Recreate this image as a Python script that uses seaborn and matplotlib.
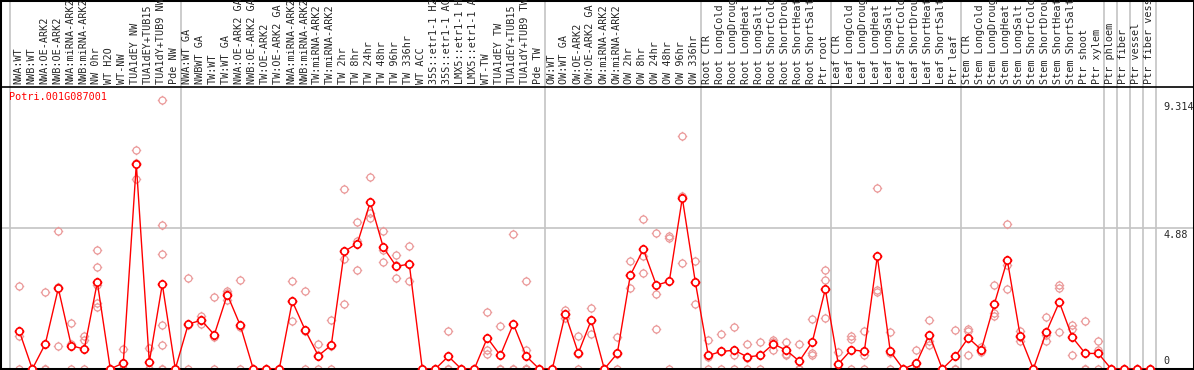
import matplotlib.pyplot as plt
import matplotlib.transforms as mtransforms
from matplotlib.path import Path
import seaborn as sns
import pandas as pd
import numpy as np

# -------------------------------
# data
# -------------------------------
gene = "Potri.001G087001"

samples = [
    "NWA:WT", "NWB:WT", "NWA:OE-ARK2", "NWB:OE-ARK2", "NWA:miRNA-ARK2", "NWB:miRNA-ARK2",
    "NW 0hr", "WT H2O", "WT-NW", "TUA1dEY NW", "TUA1dEY+TUB15", "TUA1dY+TUB9 NW", "Pde NW",
    "NWA:WT GA", "NWBWT GA", "TW:WT", "TW:WT GA", "NWA:OE-ARK2 GA", "NWB:OE-ARK2 GA",
    "TW:OE-ARK2", "TW:OE-ARK2 GA", "NWA:miRNA-ARK2", "NWB:miRNA-ARK2", "TW:miRNA-ARK2",
    "TW:miRNA-ARK2", "TW 2hr", "TW 8hr", "TW 24hr", "TW 48hr", "TW 96hr", "TW 336hr",
    "WT ACC", "35S::etr1-1 H2", "35S::etr1-1 AC", "LMX5::etr1-1 H", "LMX5::etr1-1 A",
    "WT-TW", "TUA1dEY TW", "TUA1dEY+TUB15", "TUA1dY+TUB9 TW", "Pde TW",
    "OW:WT", "OW:WT GA", "OW:OE-ARK2", "OW:OE-ARK2 GA", "OW:miRNA-ARK2", "OW:miRNA-ARK2",
    "OW 2hr", "OW 8hr", "OW 24hr", "OW 48hr", "OW 96hr", "OW 336hr",
    "Root CTR", "Root LongCold", "Root LongDroug", "Root LongHeat", "Root LongSalt",
    "Root ShortCold", "Root ShortDrou", "Root ShortHeat", "Root ShortSalt", "Ptr root",
    "Leaf CTR", "Leaf LongCold", "Leaf LongDroug", "Leaf LongHeat", "Leaf LongSalt",
    "Leaf ShortCold", "Leaf ShortDrou", "Leaf ShortHeat", "Leaf ShortSalt", "Ptr leaf",
    "Stem CTR", "Stem LongCold", "Stem LongDroug", "Stem LongHeat", "Stem LongSalt",
    "Stem ShortCold", "Stem ShortDrou", "Stem ShortHeat", "Stem ShortSalt", "Ptr shoot",
    "Ptr xylem", "Ptr phloem", "Ptr fiber", "Ptr vessel", "Ptr fiber vess",
]

mean_expr = [
    1.31, 0, 0.87, 2.80, 0.81, 0.69, 3.01, 0, 0.21, 7.11, 0.24, 2.94, 0,
    1.56, 1.69, 1.19, 2.58, 1.51, 0, 0, 0, 2.35, 1.34, 0.46, 0.83,
    4.08, 4.35, 5.79, 4.22, 3.56, 3.64, 0, 0, 0.44, 0, 0, 1.08, 0.47, 1.56, 0.44, 0,
    0, 1.91, 0.55, 1.70, 0, 0.54, 3.25, 4.15, 2.91, 3.04, 5.93, 3.02,
    0.47, 0.61, 0.65, 0.42, 0.47, 0.87, 0.65, 0.27, 0.94, 2.77,
    0.17, 0.67, 0.61, 3.91, 0.61, 0, 0.20, 1.19, 0, 0.44,
    1.08, 0.67, 2.25, 3.78, 1.13, 0, 1.28, 2.32, 1.10, 0.54,
    0.54, 0, 0, 0, 0,
]

replicates = [
    [2.87, 1.13, 0], [0, 0, 0], [2.67, 0, 0], [4.77, 2.84, 0.79], [1.58, 0.85, 0],
    [1.16, 0.99, 0], [4.12, 3.53, 2.92, 2.29, 2.15], [0, 0, 0], [0.69, 0, 0],
    [7.58, 7.13, 6.60], [0.73, 0, 0], [9.314, 4.98, 3.99, 1.51, 0.82, 0, 0], [0, 0, 0],
    [3.16, 1.52, 0], [1.83, 1.69, 1.56], [2.49, 1.10, 0], [2.72, 2.63, 2.40],
    [3.08, 1.45, 0], [0, 0, 0], [0, 0, 0], [0, 0, 0], [3.04, 2.35, 1.65],
    [2.71, 1.31, 0], [0.88, 0.50, 0], [1.71, 0.79, 0], [6.24, 3.80, 2.24],
    [5.09, 4.43, 3.42], [6.65, 5.41, 5.24], [4.77, 4.14, 3.71], [3.94, 3.60, 3.14],
    [4.25, 3.64, 3.04], [0, 0, 0], [0, 0, 0], [1.32, 0, 0], [0, 0, 0], [0, 0, 0],
    [1.97, 0.67, 0.53], [1.49, 0, 0], [4.67, 0, 0], [3.04, 0.67, 0, 0, 0, 0, 0],
    [0, 0, 0], [0, 0, 0], [2.06, 1.91, 1.77], [1.13, 0.52, 0], [2.12, 1.70, 1.23],
    [0, 0, 0], [1.11, 0.52, 0], [3.73, 3.25, 2.80], [5.20, 3.93, 3.32],
    [4.72, 2.60, 1.39], [4.60, 4.55, 0], [8.07, 5.99, 3.66], [3.73, 3.02, 2.24],
    [0.99, 0.43, 0], [1.20, 0.64, 0], [1.45, 0.50, 0], [0.88, 0.37, 0], [0.92, 0.50, 0],
    [1.02, 0.92, 0.67], [0.92, 0.52, 0.50], [0.87, 0, 0], [1.73, 0.55, 0.50],
    [3.43, 3.08, 1.77], [0.58, 0, 0], [1.13, 1.05, 0], [1.33, 0.50, 0],
    [6.28, 2.75, 2.67], [1.28, 0.55, 0], [0, 0, 0], [0.65, 0, 0], [1.69, 0.96, 0.82],
    [0, 0, 0], [1.34, 0, 0], [1.40, 1.31, 0.47], [0.75, 0.67, 0.59],
    [2.90, 1.94, 1.83], [5.03, 3.62, 2.76], [1.33, 1.10, 0.96], [0, 0, 0],
    [1.79, 1.27, 1.17, 0.96], [2.92, 2.81, 1.27], [1.51, 1.40, 0.50], [1.65, 0, 0],
    [0.96, 0.67, 0], [0, 0, 0], [0, 0, 0], [0, 0, 0], [0, 0, 0],
]

y_ticks = [0, 4.88, 9.314]
y_tick_labels = ["0", "4.88", "9.314"]
# group boundaries (index of last sample in each group)
group_ends = [12, 40, 52, 62, 72, 83, 84, 85, 86, 87]

# -------------------------------
# frames
# -------------------------------
pos = np.arange(len(samples))
mean_df = pd.DataFrame({"pos": pos, "expr": mean_expr})
rep_df = pd.DataFrame(
    [(i, v) for i, reps in enumerate(replicates) for v in reps], columns=["pos", "expr"]
)

# circle with four little ticks, like the original marker
circ = Path.unit_circle()
tick_verts, tick_codes = [], []
for dx, dy in [(1, 0), (-1, 0), (0, 1), (0, -1)]:
    tick_verts += [(dx * 1.0, dy * 1.0), (dx * 1.35, dy * 1.35)]
    tick_codes += [Path.MOVETO, Path.LINETO]
tick_marker = Path.make_compound_path(circ, Path(tick_verts, tick_codes))

sns.set_style("white")
mono = "DejaVu Sans Mono"
red = "#ff0000"
pink = "#eb9a9a"
grid_gray = "#c4c4c4"

W, H = 1194, 370
fig = plt.figure(figsize=(W / 100, H / 100), dpi=100)

top_px = 87     # header / plot separator
zero_px = 369   # y=0 line
px_per_unit = 28.83
x0_px, step_px = 19.3, 13.0
xlim = (-x0_px / step_px, (W - x0_px) / step_px)

ax = fig.add_axes([0, (H - zero_px) / H, 1, (zero_px - top_px) / H])
hdr = fig.add_axes([0, (H - top_px) / H, 1, top_px / H])

# -------------------------------
# plot area
# -------------------------------
ax.set_xlim(*xlim)
ax.set_ylim(0, (zero_px - top_px) / px_per_unit)

for g in group_ends:
    ax.axvline(g + 0.4, color=grid_gray, lw=1.2, zorder=1)
    hdr.axvline(g + 0.4, color=grid_gray, lw=1.2, zorder=1)
ax.axvline(-0.72, color=grid_gray, lw=1.2, zorder=1)
hdr.axvline(-0.72, color=grid_gray, lw=1.2, zorder=1)
ax.axhline(4.88, color=grid_gray, lw=1.2, zorder=1)

sns.lineplot(data=rep_df, x="pos", y="expr", estimator=None, sort=False,
             linestyle="none", marker=tick_marker, markersize=6.8,
             markerfacecolor="none", markeredgecolor=pink, markeredgewidth=0.9,
             ax=ax, zorder=2)
sns.lineplot(data=mean_df, x="pos", y="expr", color=red, lw=1.0,
             marker=tick_marker, markersize=7.0, markerfacecolor="white",
             markeredgecolor=red, markeredgewidth=1.2, ax=ax, zorder=4)

ax.set_xlabel("")
ax.set_ylabel("")
ax.set_xticks([])
ax.set_yticks([])
for side in ["left", "right", "bottom"]:
    ax.spines[side].set_color("black")
    ax.spines[side].set_linewidth(2.2)
ax.spines["top"].set_visible(False)

ax.text(9.5 / W, 1 - 5 / (zero_px - top_px), gene, transform=ax.transAxes,
        color=red, fontsize=7.3, family=mono, ha="left", va="top")

blend = mtransforms.blended_transform_factory(ax.transAxes, ax.transData)
for v, lab in zip(y_ticks, y_tick_labels):
    if v == 0:
        ax.text(1163 / W, 0.1, lab, transform=blend, fontsize=7.3, family=mono,
                ha="left", va="bottom")
    else:
        ax.text(1163 / W, v - 0.06, lab, transform=blend, fontsize=7.3, family=mono,
                ha="left", va="top")

# -------------------------------
# header with sample names
# -------------------------------
hdr.set_xlim(*xlim)
hdr.set_ylim(0, top_px)
hdr.set_xticks([])
hdr.set_yticks([])
for side in ["left", "right", "top", "bottom"]:
    hdr.spines[side].set_color("black")
    hdr.spines[side].set_linewidth(2.2 if side != "bottom" else 1.2)
for i, name in enumerate(samples):
    hdr.text(i - 0.08, top_px - 84, name, rotation=90, ha="center", va="bottom",
             fontsize=7.3, family=mono, clip_on=True)

fig.savefig("out.png", dpi=100)
